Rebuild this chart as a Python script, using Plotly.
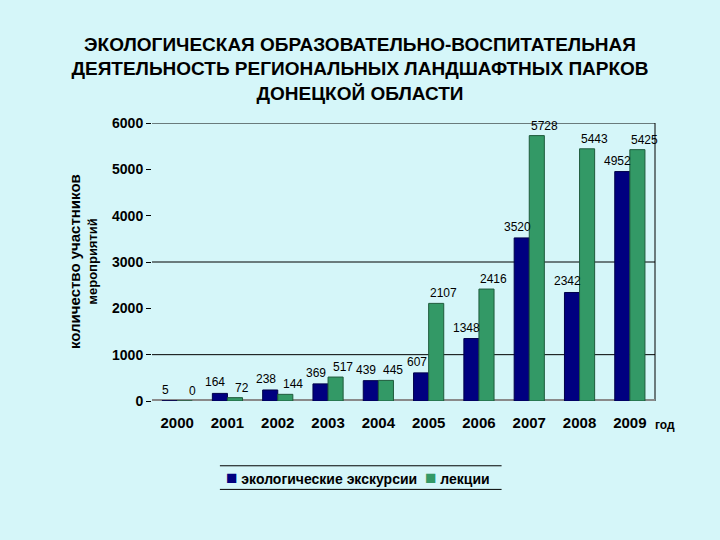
import plotly.graph_objects as go

years = ["2000", "2001", "2002", "2003", "2004", "2005", "2006", "2007", "2008", "2009"]
excursions = [5, 164, 238, 369, 439, 607, 1348, 3520, 2342, 4952]
lectures = [0, 72, 144, 517, 445, 2107, 2416, 5728, 5443, 5425]
y_ticks = [0, 1000, 2000, 3000, 4000, 5000, 6000]
grid_values = [1000, 3000, 6000]
series_names = ["экологические экскурсии", "лекции"]

BG = "#D5F6F9"
BLUE = "#000080"
GREEN = "#339966"

label_font = dict(family="Liberation Sans", size=12, color="black")

fig = go.Figure()
fig.add_trace(go.Bar(
    x=years, y=excursions, name=series_names[0],
    marker=dict(color=BLUE, line=dict(color="#00004A", width=1)),
    showlegend=False,
))
fig.add_trace(go.Bar(
    x=years, y=lectures, name=series_names[1],
    marker=dict(color=GREEN, line=dict(color="#1E5A3C", width=1)),
    showlegend=False,
))

shapes = []
for g in grid_values:
    shapes.append(dict(type="line", xref="paper", yref="y", x0=0, x1=1, y0=g, y1=g,
                       line=dict(color="black", width=1), layer="below"))
shapes.append(dict(type="line", xref="paper", yref="paper", x0=1, x1=1, y0=0, y1=1,
                   line=dict(color="black", width=1), layer="below"))
shapes.append(dict(type="line", xref="paper", yref="y", x0=0, x1=1, y0=0, y1=0,
                   line=dict(color="#8A8A8A", width=4), layer="below"))
# legend top and bottom rules
shapes.append(dict(type="line", xref="paper", yref="paper", x0=0.135, x1=0.695, y0=-0.233, y1=-0.233,
                   line=dict(color="black", width=1)))
shapes.append(dict(type="line", xref="paper", yref="paper", x0=0.135, x1=0.695, y0=-0.318, y1=-0.318,
                   line=dict(color="black", width=1)))

legend_text = (f"<span style='color:{BLUE};font-size:19px'>■</span> {series_names[0]}  "
               f"<span style='color:{GREEN};font-size:19px'>■</span> {series_names[1]}")

annotations = [
    dict(text="количество участников", xref="paper", yref="paper", x=-0.155, y=0.5,
         textangle=-90, showarrow=False, xanchor="center", yanchor="middle",
         font=dict(family="Liberation Sans", size=15, color="black", weight="bold")),
    dict(text="мероприятий", xref="paper", yref="paper", x=-0.12, y=0.5,
         textangle=-90, showarrow=False, xanchor="center", yanchor="middle",
         font=dict(family="Liberation Sans", size=13, color="black", weight="bold")),
    dict(text="год", xref="paper", yref="paper", x=0.996, y=-0.085,
         showarrow=False, xanchor="left", yanchor="middle",
         font=dict(family="Liberation Sans", size=12, color="black", weight="bold")),
    dict(text=legend_text, xref="paper", yref="paper", x=0.41, y=-0.276,
         showarrow=False, xanchor="center", yanchor="middle",
         font=dict(family="Liberation Sans", size=14, color="black", weight="bold")),
]
# value labels: category index on the category axis, shifted per series
for i, v in enumerate(excursions):
    annotations.append(dict(text=str(v), x=i, y=v, xref="x", yref="y", showarrow=False,
                            xanchor="center", yanchor="bottom", xshift=-12, yshift=2,
                            font=label_font))
for i, v in enumerate(lectures):
    annotations.append(dict(text=str(v), x=i, y=v, xref="x", yref="y", showarrow=False,
                            xanchor="center", yanchor="bottom", xshift=15, yshift=1,
                            font=label_font))

fig.update_layout(
    width=720, height=540,
    paper_bgcolor=BG, plot_bgcolor=BG,
    margin=dict(l=152, r=65, t=123, b=139),
    barmode="group", bargap=0.4, bargroupgap=0,
    title=dict(
        text="ЭКОЛОГИЧЕСКАЯ ОБРАЗОВАТЕЛЬНО-ВОСПИТАТЕЛЬНАЯ<br>ДЕЯТЕЛЬНОСТЬ РЕГИОНАЛЬНЫХ ЛАНДШАФТНЫХ ПАРКОВ<br>ДОНЕЦКОЙ ОБЛАСТИ",
        x=0.5, xanchor="center", y=0.906, yanchor="top",
        font=dict(family="Liberation Sans", size=19, color="black", weight="bold"),
    ),
    xaxis=dict(
        type="category", range=[-0.5, len(years) - 0.5],
        showgrid=False, showline=False, zeroline=False,
        tickfont=dict(family="Liberation Sans", size=15, color="black", weight="bold"),
        ticks="", ticklabelstandoff=11,
    ),
    yaxis=dict(
        range=[0, 6000], tickvals=y_ticks, showgrid=False, zeroline=False, showline=False,
        tickfont=dict(family="Liberation Sans", size=14, color="black", weight="bold"),
        ticks="outside", ticklen=5, tickcolor="black",
    ),
    showlegend=False,
    shapes=shapes,
    font=dict(family="Liberation Sans"),
    annotations=annotations,
)

fig.write_html("out.html")
